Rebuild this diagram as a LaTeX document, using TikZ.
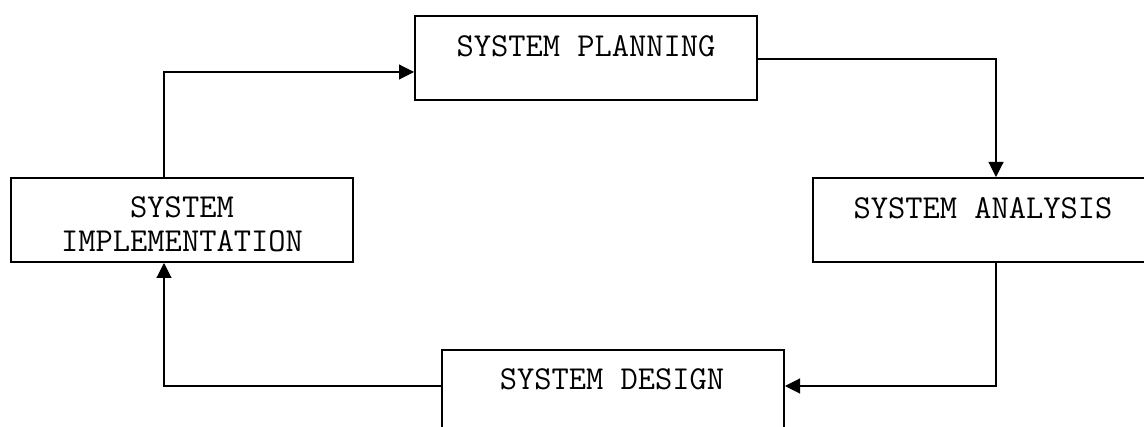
\documentclass[tikz,border=0pt]{standalone}
\usetikzlibrary{arrows.meta}
\begin{document}
\begin{tikzpicture}[x=1pt,y=-1pt,
  stage/.style={draw=black,line width=2pt,rectangle,inner sep=0pt,
    minimum width=342pt,minimum height=84pt,anchor=north west},
  label/.style={font=\ttfamily\fontsize{33.5}{34}\selectfont,inner sep=0pt,align=center},
  conn/.style={draw=black,line width=1.1pt},
  arr/.style={conn,-{Triangle[length=15pt,width=15pt]}}]
  \clip (0,0) rectangle (1144,427);
  % stage boxes
  \node[stage] (plan) at (414,15) {};
  \node[stage] (anal) at (812,177) {};
  \node[stage] (desi) at (441,349) {};
  \node[stage] (impl) at (10,177) {};
  % stage titles
  \node[label] (tplan) at (586,46) {SYSTEM PLANNING};
  \node[label] (tanal) at (983,208) {SYSTEM ANALYSIS};
  \node[label] (tdesi) at (612,379) {SYSTEM DESIGN};
  \node[label] (timpl) at (182,224) {SYSTEM\\IMPLEMENTATION};
  % columns and rows used by the connectors
  \coordinate (colL) at (164,0);
  \coordinate (colR) at (996,0);
  \coordinate (rowT) at (0,72);
  \coordinate (rowP) at (0,59);
  \coordinate (rowB) at (0,386);
  % cycle of connectors
  \draw[arr] (impl.north -| colL) |- (plan.west |- rowT);
  \draw[arr] (plan.east |- rowP) -| (anal.north -| colR);
  \draw[arr] (anal.south -| colR) |- (desi.east |- rowB);
  \draw[arr] (desi.west |- rowB) -| (impl.south -| colL);
\end{tikzpicture}
\end{document}
